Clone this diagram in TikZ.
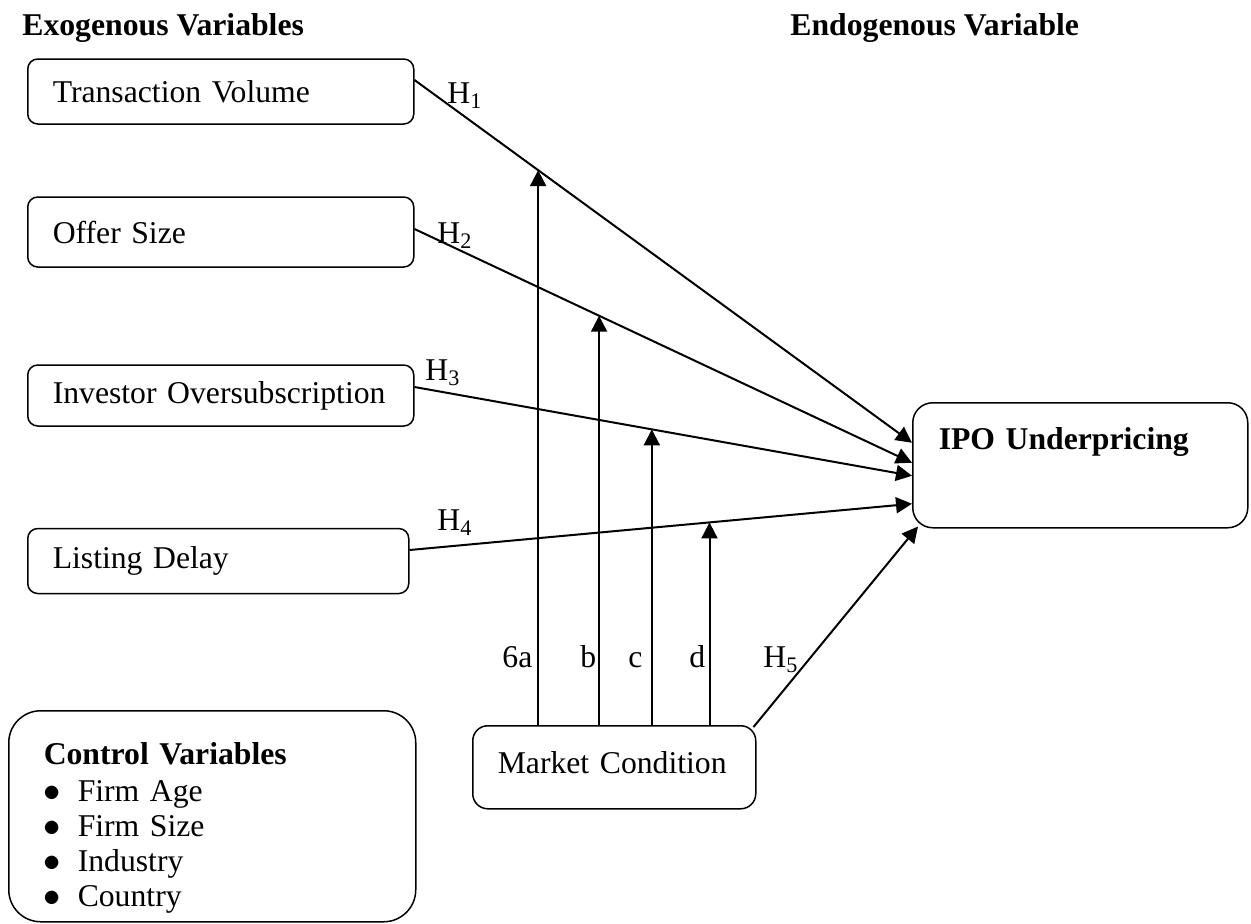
\documentclass[tikz,border=0pt]{standalone}
\usepackage{fontspec}
\setmainfont{Liberation Serif}
\usetikzlibrary{arrows.meta,calc}

\newcommand{\dgsize}{\fontsize{15.85}{17.5}\selectfont}
\newcommand{\dgitem}{\makebox[17pt][l]{$\bullet$}}

\begin{document}
\begin{tikzpicture}[x=0.5pt, y=-0.5pt,
    every node/.style={font=\dgsize},
    varbox/.style={draw, line width=0.75pt, rounded corners=5pt, anchor=west,
        text width=168pt, inner xsep=12.5pt, align=left},
    headlbl/.style={anchor=base west, inner sep=0pt, font=\dgsize\bfseries},
    hlbl/.style={anchor=base west, inner sep=0pt},
    hyp/.style={line width=1pt, -{Triangle[length=8pt,width=8pt]}}]
    \useasboundingbox (0,0) rectangle (1251,923);

    % 1. TITLES
    \node[headlbl] (exo) at (22,35) {Exogenous Variables};
    \node[headlbl] (endo) at (790,35) {Endogenous Variable};

    % 2. EXOGENOUS VARIABLES
    \node[varbox, minimum height=32.5pt] (tv) at (27,91.5) {Transaction Volume};
    \node[varbox, minimum height=35pt] (os) at (27,232) {Offer Size};
    \node[varbox, minimum height=30.5pt] (io) at (27,395.5) {Investor Oversubscription};
    \node[varbox, minimum height=32.5pt, text width=165.5pt] (ld) at (27,561) {Listing Delay};

    % 3. ENDOGENOUS VARIABLE AND MODERATOR
    \node[draw, line width=0.75pt, rounded corners=10pt, anchor=north west, align=left,
        text width=141.5pt, inner xsep=13pt, inner ysep=0pt, text height=23.25pt,
        text depth=39.25pt, font=\dgsize\bfseries] (ipo) at (912,402) {IPO Underpricing};
    \node[draw, line width=0.75pt, rounded corners=7.5pt, anchor=north west, align=left,
        text width=116.5pt, inner xsep=12.5pt, inner ysep=0pt, text height=23.75pt,
        text depth=17.75pt] (mc) at (472,725) {Market Condition};

    % 4. CONTROL VARIABLES
    \node[draw, line width=0.75pt, rounded corners=16pt, anchor=north west, align=left,
        text width=168.5pt, inner xsep=17.5pt, inner ysep=0pt, text height=26.75pt,
        text depth=78.75pt] (ctrl) at (8,710)
        {\textbf{Control Variables}\\[1pt]
         \dgitem Firm Age\\
         \dgitem Firm Size\\
         \dgitem Industry\\
         \dgitem Country};

    % 5. DIRECT PATHS H1-H5
    \draw[hyp] ($(tv.east)+(0,-11.5)$) -- ($(ipo.west)+(0,-22.5)$) coordinate[pos=0.2485] (m1);
    \draw[hyp] ($(os.east)+(0,-3)$) -- ($(ipo.west)+(0,-2.5)$) coordinate[pos=0.371] (m2);
    \draw[hyp] ($(io.east)+(0,-8.5)$) -- ($(ipo.west)+(0,10.5)$) coordinate[pos=0.477] (m3);
    \draw[hyp] ($(ld.east)+(0,-11)$) -- ($(ipo.west)+(0,38.5)$) coordinate[pos=0.597] (m4);
    \draw[hyp] ($(mc.north east)+(-3,2)$) -- ($(ipo.south west)+(6,-2)$);

    % 6. MODERATING PATHS
    \foreach \m in {m1,m2,m3,m4} {
        \draw[hyp] (\m |- mc.north) -- (\m);
    }

    % 7. PATH LABELS
    \node[hlbl] (h1) at (447,103) {H\textsubscript{1}};
    \node[hlbl] (h2) at (437,243) {H\textsubscript{2}};
    \node[hlbl] (h3) at (425,380) {H\textsubscript{3}};
    \node[hlbl] (h4) at (437,530) {H\textsubscript{4}};
    \node[hlbl] (h5) at (763,667) {H\textsubscript{5}};
    \node[hlbl] (l6a) at (502,667) {6a};
    \node[hlbl] (lb) at (580,667) {b};
    \node[hlbl] (lc) at (628,667) {c};
    \node[hlbl] (lbd) at (689,667) {d};

\end{tikzpicture}
\end{document}
